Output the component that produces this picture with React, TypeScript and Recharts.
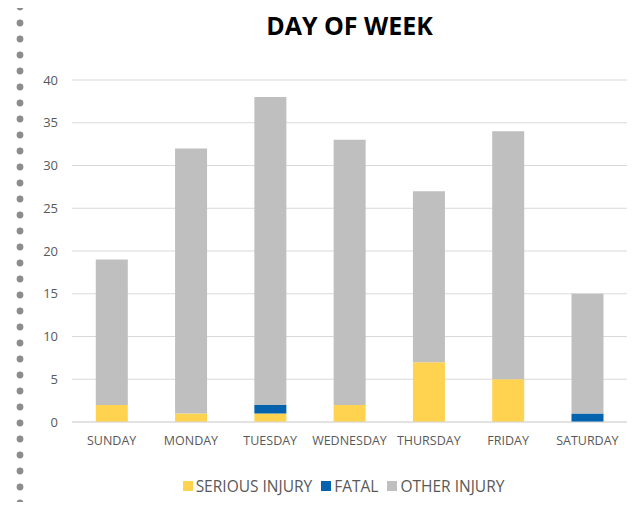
import React from 'react';
import { BarChart, Bar, XAxis, YAxis, CartesianGrid, Legend } from 'recharts';

const days = ['SUNDAY', 'MONDAY', 'TUESDAY', 'WEDNESDAY', 'THURSDAY', 'FRIDAY', 'SATURDAY'];
const serious = [2, 1, 1, 2, 7, 5, 0];
const fatal = [0, 0, 1, 0, 0, 0, 1];
const other = [17, 31, 36, 31, 20, 29, 14];
const yTicks = [0, 5, 10, 15, 20, 25, 30, 35, 40];

const seriesInfo = [
  { key: 'serious', name: 'SERIOUS INJURY', color: '#FFD34F' },
  { key: 'fatal', name: 'FATAL', color: '#0563AE' },
  { key: 'other', name: 'OTHER INJURY', color: '#BFBFBF' },
];

const data = days.map((day, i) => ({
  day,
  serious: serious[i],
  fatal: fatal[i],
  other: other[i],
}));

const FONT = '"Open Sans", "Liberation Sans", sans-serif';

const DotColumn: React.FC = () => (
  <svg width={40} height={510} style={{ position: 'absolute', left: 0, top: 0 }}>
    {Array.from({ length: 32 }).map((_, i) => (
      <circle key={i} cx={20} cy={7 + i * 16} r={3.4} fill="#8c8c8c" />
    ))}
  </svg>
);

const LegendRow: React.FC = () => (
  <div style={{ display: 'flex', justifyContent: 'center', alignItems: 'center', gap: 9, fontSize: 15.5, color: '#595959', fontFamily: FONT }}>
    {seriesInfo.map((s) => (
      <span key={s.key} style={{ display: 'inline-flex', alignItems: 'center' }}>
        <span style={{ display: 'inline-block', width: 10, height: 10, background: s.color, marginRight: 3 }} />
        {s.name}
      </span>
    ))}
  </div>
);

export default function App() {
  return (
    <div style={{ position: 'relative', width: 637, height: 510, margin: -8, background: '#fff', fontFamily: FONT }}>
      <DotColumn />
      <div
        style={{
          position: 'absolute',
          top: 8,
          left: 72,
          width: 555,
          textAlign: 'center',
          fontSize: 25,
          fontWeight: 700,
          color: '#000',
        }}
      >
        DAY OF WEEK
      </div>
      <BarChart
        width={637}
        height={510}
        data={data}
        margin={{ top: 80, right: 10, left: 0, bottom: 0 }}
        barCategoryGap="30%"
        style={{ position: 'absolute', left: 0, top: 0 }}
      >
        <CartesianGrid vertical={false} stroke="#d9d9d9" strokeWidth={1} />
        <XAxis
          dataKey="day"
          height={88}
          axisLine={{ stroke: '#d9d9d9', strokeWidth: 1 }}
          tickLine={false}
          tickMargin={8}
          tick={{ fontSize: 12.5, fill: '#595959', fontFamily: FONT }}
        />
        <YAxis
          width={72}
          domain={[0, 40]}
          ticks={yTicks}
          axisLine={false}
          tickLine={false}
          tickSize={0}
          tickMargin={14}
          tick={{ fontSize: 13, fill: '#595959', fontFamily: FONT }}
        />
        <Legend
          verticalAlign="middle"
          align="center"
          wrapperStyle={{ top: 475, left: 25, width: 637 }}
          content={() => <LegendRow />}
        />
        {seriesInfo.map((s) => (
          <Bar key={s.key} dataKey={s.key} name={s.name} stackId="a" fill={s.color} isAnimationActive={false} />
        ))}
      </BarChart>
    </div>
  );
}
